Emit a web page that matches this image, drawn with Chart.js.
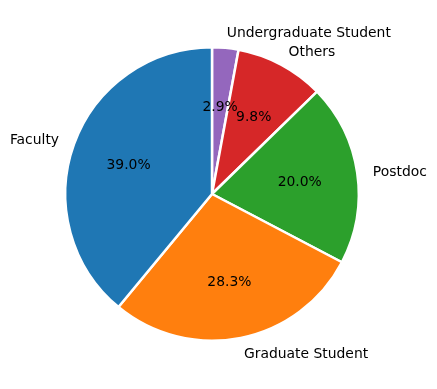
<!DOCTYPE html>
<html>
<head>
<meta charset="utf-8">
<script src="https://cdn.jsdelivr.net/npm/chart.js@4"></script>
<style>
  html, body { margin: 0; padding: 0; background: #ffffff; }
  #wrap { width: 437px; height: 389px; position: relative; }
</style>
</head>
<body>
<div id="wrap"><canvas id="pieChart"></canvas></div>
<script>
// order is clockwise from the top (matplotlib drew it counter-clockwise)
const categories = ['Undergraduate Student', 'Others', 'Postdoc', 'Graduate Student', 'Faculty'];
const shares = [2.9, 9.8, 20.0, 28.3, 39.0];
const sliceColors = ['#9467bd', '#d62728', '#2ca02c', '#ff7f0e', '#1f77b4'];

const fontSpec = '13.9px "DejaVu Sans"';

// draws the outside labels and the percentage inside each slice
const pieLabels = {
    id: 'pieLabels',
    afterDatasetsDraw(chart) {
        const ctx = chart.ctx;
        const meta = chart.getDatasetMeta(0);
        const total = shares.reduce((a, b) => a + b, 0);
        ctx.save();
        ctx.font = fontSpec;
        ctx.fillStyle = '#000000';
        ctx.textBaseline = 'middle';
        meta.data.forEach((arc, i) => {
            const mid = (arc.startAngle + arc.endAngle) / 2;
            const r = arc.outerRadius + 1;
            const cx = Math.cos(mid), cy = Math.sin(mid);
            const dy = 1.5;

            ctx.textAlign = cx > 0 ? 'left' : 'right';
            ctx.fillText(categories[i], arc.x + cx * r * 1.1, arc.y + cy * r * 1.1 + dy);

            ctx.textAlign = 'center';
            const pct = (shares[i] / total * 100).toFixed(1) + '%';
            ctx.fillText(pct, arc.x + cx * r * 0.6, arc.y + cy * r * 0.6 + dy);
        });
        ctx.restore();
    }
};

new Chart(document.getElementById('pieChart').getContext('2d'), {
    type: 'pie',
    data: {
        labels: categories,
        datasets: [{
            data: shares,
            backgroundColor: sliceColors,
            borderColor: '#ffffff',
            borderWidth: 2.5
        }]
    },
    options: {
        responsive: true,
        maintainAspectRatio: false,
        animation: false,
        layout: {
            padding: { left: 64, right: 77, top: 46, bottom: 47 }
        },
        plugins: {
            legend: { display: false },
            tooltip: { enabled: false }
        }
    },
    plugins: [pieLabels]
});
</script>
</body>
</html>
